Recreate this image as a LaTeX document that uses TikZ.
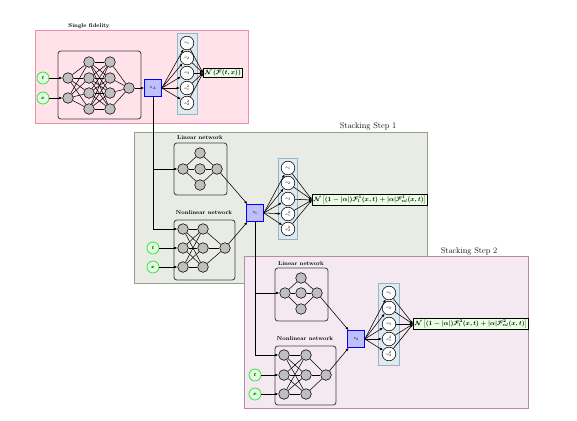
\documentclass[tikz,border=0pt]{standalone}
\usepackage{amsmath, amssymb}
\usepackage{tikz}
\usetikzlibrary{arrows.meta, positioning, calc}

\definecolor{sfFill}{RGB}{255,226,234}
\definecolor{sfLine}{RGB}{240,140,165}
\definecolor{stOneFill}{RGB}{233,236,228}
\definecolor{stOneLine}{RGB}{150,158,140}
\definecolor{stTwoFill}{RGB}{244,233,240}
\definecolor{stTwoLine}{RGB}{180,140,170}
\definecolor{colFill}{RGB}{222,233,240}
\definecolor{colLine}{RGB}{150,180,200}
\definecolor{resFill}{RGB}{232,255,228}
\definecolor{inLine}{RGB}{60,220,60}
\definecolor{inFill}{RGB}{222,255,222}

\begin{document}
\begin{tikzpicture}[x=0.05cm, y=-0.05cm,
    neuron/.style={circle, draw, fill=gray!50, line width=0.8pt, minimum size=0.53cm, inner sep=0pt},
    inputnode/.style={circle, draw=inLine, fill=inFill, line width=1.1pt, minimum size=0.6cm, inner sep=0pt, font=\scriptsize\boldmath},
    zbox/.style={draw=blue, fill=blue!25, line width=1pt, minimum size=0.85cm, inner sep=0pt, font=\scriptsize},
    outnode/.style={circle, draw, fill=white, line width=0.8pt, minimum size=0.68cm, inner sep=0pt, font=\tiny},
    outcol/.style={fill=colFill, draw=colLine, line width=0.8pt},
    resbox/.style={draw, fill=resFill, line width=1pt, inner sep=2pt, anchor=west, font=\small\boldmath},
    netbox/.style={draw=black!75, rounded corners=4pt, line width=1.2pt},
    link/.style={line width=0.75pt},
    feed/.style={line width=0.8pt, -{Latex[length=1.6mm, width=1.3mm]}},
    skip/.style={line width=1.2pt, -{Latex[length=1.6mm, width=1.3mm]}},
    nettitle/.style={font=\footnotesize\bfseries},
    steptitle/.style={font=\large}
]
\useasboundingbox (0,0) rectangle (577,420);

% Panels
\draw[fill=sfFill, draw=sfLine, line width=1pt] (35,30) rectangle (248,123);
\draw[fill=stOneFill, draw=stOneLine, line width=1pt] (134,132) rectangle (427,283);
\draw[fill=stTwoFill, draw=stTwoLine, line width=1pt] (244,256) rectangle (528,408);
\node[nettitle] (sftitle) at (89,26) {Single fidelity};
\node[steptitle] (s1title) at (368,126) {Stacking Step 1};
\node[steptitle] (s2title) at (469,251) {Stacking Step 2};

% Single fidelity network
\draw[netbox] (58,51) rectangle (141,119);
\node[inputnode] (t0) at (43,78) {$t$};
\node[inputnode] (x0) at (43,98) {$x$};
\foreach \i/\y in {1/78, 2/98} \node[neuron] (h0a\i) at (68,\y) {};
\foreach \i/\y in {1/62, 2/78, 3/93, 4/109} {
    \node[neuron] (h0b\i) at (89,\y) {};
    \node[neuron] (h0c\i) at (110,\y) {};
}
\node[neuron] (h0o) at (129,88) {};
\foreach \i in {1,2} \foreach \j in {1,...,4} \draw[link] (h0a\i) -- (h0b\j);
\foreach \i in {1,...,4} {
    \foreach \j in {1,...,4} \draw[link] (h0b\i) -- (h0c\j);
    \draw[link] (h0c\i) -- (h0o);
}
\draw[feed] (t0) -- (h0a1);
\draw[feed] (x0) -- (h0a2);
\node[zbox] (zA) at (153,88) {$z_A$};
\draw[feed] (h0o) -- (zA);

% Outputs of single fidelity
\draw[outcol] (177,33) rectangle (197,114);
\foreach \i/\y/\l in {1/43/a_1, 2/58/a_2, 3/73/a_3, 4/88/a_1^2, 5/103/a_2^2}
    \node[outnode] (o0\i) at (187,\y) {$\l$};
\node[resbox] (r0) at (203,73) {$\mathcal{N}\left(\mathcal{F}(t,x)\right)$};
\foreach \i in {1,...,5} {
    \draw[feed] (zA.east) -- (o0\i);
    \draw[feed] (o0\i) -- (r0.west);
}

% Stacking step 1: linear network
\draw[netbox] (174,143) rectangle (227,195);
\node[nettitle] (l1title) at (200,138) {Linear network};
\node[neuron] (l1i) at (183,169) {};
\foreach \i/\y in {1/153, 2/169, 3/185} \node[neuron] (l1h\i) at (200,\y) {};
\node[neuron] (l1o) at (217,169) {};
\foreach \i in {1,2,3} \draw[link] (l1i) -- (l1h\i) (l1h\i) -- (l1o);

% Stacking step 1: nonlinear network
\draw[netbox] (174,220) rectangle (235,280);
\node[nettitle] (n1title) at (204,213) {Nonlinear network};
\foreach \i/\y in {1/229, 2/248, 3/267} {
    \node[neuron] (n1a\i) at (183,\y) {};
    \node[neuron] (n1b\i) at (203,\y) {};
}
\node[neuron] (n1o) at (225,248) {};
\foreach \i in {1,2,3} {
    \foreach \j in {1,2,3} \draw[link] (n1a\i) -- (n1b\j);
    \draw[link] (n1b\i) -- (n1o);
}
\node[inputnode] (t1) at (153,248) {$t$};
\node[inputnode] (x1) at (153,267) {$x$};
\draw[feed] (t1) -- (n1a2);
\draw[feed] (x1) -- (n1a3);
\draw[skip] (zA.south) |- (l1i);
\draw[skip] (zA.south) |- (n1a1);

\node[zbox] (z1) at (255,213) {$z_1$};
\draw[feed] (l1o) -- (z1);
\draw[feed] (n1o) -- (z1);
\draw[outcol] (278,158) rectangle (297,239);
\foreach \i/\y/\l in {1/168/a_1, 2/183/a_2, 3/199/a_3, 4/214/a_1^2, 5/229/a_2^2}
    \node[outnode] (o1\i) at (288,\y) {$\l$};
\node[resbox] (r1) at (312,200) {$\mathcal{N}\left[(1-|\alpha|)\mathcal{F}_{l}^{1}(x,t)+|\alpha|\mathcal{F}_{nl}^{1}(x,t)\right]$};
\foreach \i in {1,...,5} {
    \draw[feed] (z1.east) -- (o1\i);
    \draw[feed] (o1\i) -- (r1.west);
}

% Stacking step 2: linear network
\draw[netbox] (275,268) rectangle (328,321);
\node[nettitle] (l2title) at (301,264) {Linear network};
\node[neuron] (l2i) at (285,293) {};
\foreach \i/\y in {1/278, 2/293, 3/309} \node[neuron] (l2h\i) at (301,\y) {};
\node[neuron] (l2o) at (317,293) {};
\foreach \i in {1,2,3} \draw[link] (l2i) -- (l2h\i) (l2h\i) -- (l2o);

% Stacking step 2: nonlinear network
\draw[netbox] (275,346) rectangle (336,405);
\node[nettitle] (n2title) at (305,339) {Nonlinear network};
\foreach \i/\y in {1/355, 2/375, 3/394} {
    \node[neuron] (n2a\i) at (284,\y) {};
    \node[neuron] (n2b\i) at (306,\y) {};
}
\node[neuron] (n2o) at (326,375) {};
\foreach \i in {1,2,3} {
    \foreach \j in {1,2,3} \draw[link] (n2a\i) -- (n2b\j);
    \draw[link] (n2b\i) -- (n2o);
}
\node[inputnode] (t2) at (255,375) {$t$};
\node[inputnode] (x2) at (255,394) {$x$};
\draw[feed] (t2) -- (n2a2);
\draw[feed] (x2) -- (n2a3);
\draw[skip] (z1.south) |- (l2i);
\draw[skip] (z1.south) |- (n2a1);

\node[zbox] (z2) at (356,339) {$z_2$};
\draw[feed] (l2o) -- (z2);
\draw[feed] (n2o) -- (z2);
\draw[outcol] (378,283) rectangle (399,365);
\foreach \i/\y/\l in {1/293/a_1, 2/308/a_2, 3/324/a_3, 4/339/a_1^2, 5/354/a_2^2}
    \node[outnode] (o2\i) at (389,\y) {$\l$};
\node[resbox] (r2) at (413,324) {$\mathcal{N}\left[(1-|\alpha|)\mathcal{F}_{l}^{2}(x,t)+|\alpha|\mathcal{F}_{nl}^{2}(x,t)\right]$};
\foreach \i in {1,...,5} {
    \draw[feed] (z2.east) -- (o2\i);
    \draw[feed] (o2\i) -- (r2.west);
}
\end{tikzpicture}
\end{document}
